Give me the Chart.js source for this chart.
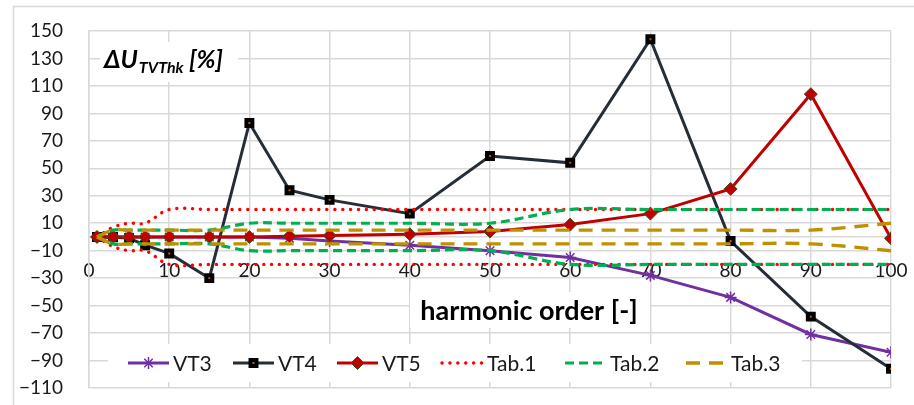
<!DOCTYPE html>
<html lang="en">
<head>
    <meta charset="UTF-8">
    <title>Delta U TVThk vs harmonic order</title>
    <script src="https://cdn.jsdelivr.net/npm/chart.js"></script>
    <style>
        html, body { margin: 0; padding: 0; background: #fff; }
        #chart { display: block; }
    </style>
</head>
<body>
    <canvas id="chart" width="914" height="405"></canvas>

    <script>
        // harmonic orders (x values)
        const harmonics = [1, 3, 5, 7, 10, 15, 20, 25, 30, 40, 50, 60, 70, 80, 90, 100];

        // measured deviations [%]
        const vt3 = [0, 0, 0, 0, 0, 0, 0, -1, -3, -6, -10, -15, -28, -44, -71, -84];
        const vt4 = [0, 0, -1, -6, -12, -30, 83, 34, 27, 17, 59, 54, 144, -3, -58, -96];
        const vt5 = [0, 0, 0, 0, 0, 0, 0, 0.5, 1, 2, 4, 9, 17, 35, 104, -1];

        // limit tables (upper / lower envelope)
        const tab1Upper = [0, 7, 10, 10, 20, 20, 20, 20, 20, 20, 20, 20, 20, 20, 20, 20];
        const tab1Lower = [0, -7, -10, -10, -20, -20, -20, -20, -20, -20, -20, -20, -20, -20, -20, -20];
        const tab2Upper = [0, 5, 5, 5, 5, 5, 10, 10, 10, 10, 10, 20, 20, 20, 20, 20];
        const tab2Lower = [0, -5, -5, -5, -5, -5, -10, -10, -10, -10, -10, -20, -20, -20, -20, -20];
        const tab3Upper = [0, 5, 5, 5, 5, 5, 5, 5, 5, 5, 5, 5, 5, 5, 5, 10];
        const tab3Lower = [0, -5, -5, -5, -5, -5, -5, -5, -5, -5, -5, -5, -5, -5, -5, -10];

        // axis ticks
        const yMin = -110, yMax = 150, yStep = 20;
        const xMin = 0, xMax = 100, xStep = 10;

        const FONT = 'Lato, "Open Sans", sans-serif';
        const GRID = '#d9d9d9';

        function pts(ys) {
            return harmonics.map((h, i) => ({ x: h, y: ys[i] }));
        }

        const vtStyle = {
            VT3: { borderColor: '#7030a0', pointStyle: 'star', pointRadius: 6, pointBorderColor: '#7030a0', pointBackgroundColor: '#7030a0', pointBorderWidth: 1.5 },
            VT4: { borderColor: '#252d37', pointStyle: 'rect', pointRadius: 4.2, pointBorderColor: '#000000', pointBackgroundColor: '#c55a11', pointBorderWidth: 4 },
            VT5: { borderColor: '#c00000', pointStyle: 'rectRot', pointRadius: 6.5, pointBorderColor: '#375623', pointBackgroundColor: '#c00000', pointBorderWidth: 1 }
        };
        const tabStyle = {
            'Tab.1': { borderColor: '#ff0000', borderDash: [0.1, 7.8], borderCapStyle: 'round', borderWidth: 3.4 },
            'Tab.2': { borderColor: '#00b050', borderDash: [9, 5], borderCapStyle: 'butt', borderWidth: 3.2 },
            'Tab.3': { borderColor: '#bf9000', borderDash: [14, 9], borderCapStyle: 'butt', borderWidth: 3.4 }
        };

        function vtDataset(name, ys, order) {
            const s = vtStyle[name];
            return Object.assign({
                label: name, data: pts(ys), borderWidth: 3, tension: 0, order: order
            }, s);
        }
        function tabDataset(name, ys, order) {
            const s = tabStyle[name];
            return Object.assign({
                label: name, data: pts(ys), tension: 0.35, pointRadius: 0, order: order
            }, s);
        }

        const datasets = [
            vtDataset('VT3', vt3, 9),
            vtDataset('VT4', vt4, 8),
            vtDataset('VT5', vt5, 7),
            tabDataset('Tab.1', tab1Upper, 6),
            tabDataset('Tab.1', tab1Lower, 5),
            tabDataset('Tab.2', tab2Upper, 4),
            tabDataset('Tab.2', tab2Lower, 3),
            tabDataset('Tab.3', tab3Upper, 2),
            tabDataset('Tab.3', tab3Lower, 1)
        ];

        function fmt(v) {
            return v < 0 ? '\u2212' + Math.abs(v) : String(v);
        }

        // frame, title texts and legend drawn inside the plot, like the original
        const overlay = {
            id: 'overlay',
            beforeDraw(chart) {
                const ctx = chart.ctx;
                ctx.save();
                ctx.strokeStyle = GRID;
                ctx.lineWidth = 1.5;
                ctx.strokeRect(13.5, 6.5, 1200, 1200);
                ctx.restore();
            },
            afterDatasetsDraw(chart) {
                const ctx = chart.ctx;
                ctx.save();

                // y-axis title
                ctx.fillStyle = '#fff';
                ctx.fillRect(100, 42, 138, 40);
                ctx.fillStyle = '#000';
                ctx.textBaseline = 'alphabetic';
                ctx.textAlign = 'left';
                let x = 104, base = 68;
                ctx.font = 'italic bold 25px ' + FONT;
                ctx.fillText('\u0394U', x, base);
                x += ctx.measureText('\u0394U').width + 1;
                ctx.font = 'italic bold 16px ' + FONT;
                ctx.fillText('TVThk', x, base + 5);
                x += ctx.measureText('TVThk').width;
                ctx.font = 'italic bold 25px ' + FONT;
                ctx.fillText(' [%]', x, base);

                // x-axis title
                ctx.fillStyle = '#fff';
                ctx.fillRect(410, 292, 240, 36);
                ctx.fillStyle = '#000';
                ctx.font = 'bold 27px ' + FONT;
                ctx.textAlign = 'center';
                ctx.fillText('harmonic order [-]', 529, 320);

                // legend
                ctx.fillStyle = '#fff';
                ctx.fillRect(108, 344, 694, 38);
                const entries = [
                    { name: 'VT3', x: 128 },
                    { name: 'VT4', x: 233 },
                    { name: 'VT5', x: 337 },
                    { name: 'Tab.1', x: 442 },
                    { name: 'Tab.2', x: 565 },
                    { name: 'Tab.3', x: 686 }
                ];
                const ly = 363;
                entries.forEach(e => {
                    const ds = chart.data.datasets.find(d => d.label === e.name);
                    ctx.save();
                    ctx.strokeStyle = ds.borderColor;
                    ctx.lineWidth = ds.borderWidth;
                    ctx.lineCap = ds.borderCapStyle || 'butt';
                    ctx.setLineDash(ds.borderDash || []);
                    ctx.beginPath();
                    ctx.moveTo(e.x, ly);
                    ctx.lineTo(e.x + 41, ly);
                    ctx.stroke();
                    ctx.setLineDash([]);
                    if (ds.pointRadius > 0 && Chart.helpers && Chart.helpers.drawPoint) {
                        ctx.fillStyle = ds.pointBackgroundColor;
                        ctx.strokeStyle = ds.pointBorderColor;
                        ctx.lineWidth = ds.pointBorderWidth;
                        Chart.helpers.drawPoint(ctx, {
                            pointStyle: ds.pointStyle, radius: ds.pointRadius,
                            rotation: 0, borderWidth: ds.pointBorderWidth
                        }, e.x + 20.5, ly);
                    }
                    ctx.restore();
                    ctx.fillStyle = '#1a1a1a';
                    ctx.font = '21px ' + FONT;
                    ctx.textAlign = 'left';
                    ctx.textBaseline = 'middle';
                    ctx.fillText(e.name, e.x + 45, ly + 1);
                });

                ctx.restore();
            }
        };

        new Chart(document.getElementById('chart').getContext('2d'), {
            type: 'line',
            data: { datasets: datasets },
            plugins: [overlay],
            options: {
                responsive: false,
                animation: false,
                events: [],
                layout: { padding: { left: 0, top: 31, right: 23, bottom: 17 } },
                plugins: {
                    legend: { display: false },
                    tooltip: { enabled: false },
                    title: { display: false }
                },
                scales: {
                    x: {
                        type: 'linear',
                        min: xMin, max: xMax,
                        position: { y: 0 },
                        afterFit(scale) {
                            scale.paddingLeft = 0; scale.paddingRight = 0;
                            scale.paddingTop = 0; scale.paddingBottom = 0;
                        },
                        ticks: {
                            stepSize: xStep,
                            padding: 23,
                            color: '#1a1a1a',
                            font: { family: FONT, size: 19 },
                            maxRotation: 0
                        },
                        grid: { color: GRID, lineWidth: 1.5, drawTicks: false },
                        border: { color: GRID, width: 1.5 }
                    },
                    y: {
                        min: yMin, max: yMax,
                        afterFit(scale) {
                            scale.width = 89;
                            scale.paddingTop = 0; scale.paddingBottom = 0;
                        },
                        ticks: {
                            stepSize: yStep,
                            padding: 26,
                            color: '#1a1a1a',
                            font: { family: FONT, size: 19 },
                            callback: v => fmt(v)
                        },
                        grid: { color: GRID, lineWidth: 1.5, drawTicks: false },
                        border: { color: GRID, width: 1.5 }
                    }
                }
            }
        });
    </script>
</body>
</html>
